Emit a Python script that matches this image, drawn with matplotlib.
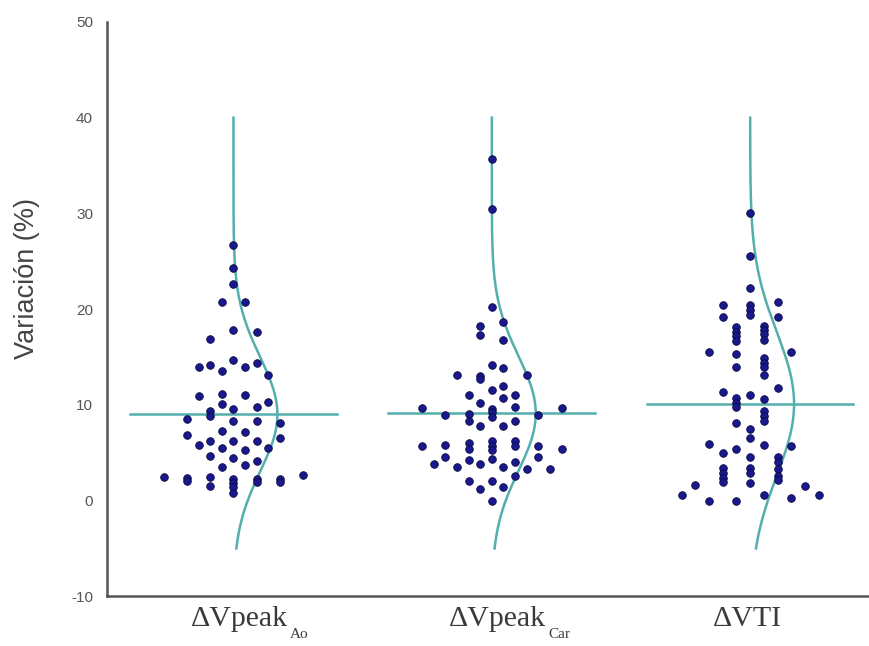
import numpy as np
import matplotlib

matplotlib.use("Agg")
import matplotlib.pyplot as plt
import matplotlib.transforms as mtransforms

plt.rcParams["axes.unicode_minus"] = False

# ── data ──
labels = ["ΔVpeak", "ΔVpeak", "ΔVTI"]
subs = ["Ao", "Car", ""]

ao_vals = [26.75, 24.3, 22.6, 20.7, 20.7, 17.8, 17.6, 16.9, 13.9, 14.2, 13.5, 14.7,
           13.9, 14.4, 13.1, 10.9, 11.1, 10.05, 11.0, 9.6, 9.8, 10.3, 9.4, 8.8, 8.5,
           8.35, 8.35, 8.1, 6.8, 7.3, 7.2, 6.5, 5.8, 6.2, 6.2, 6.2, 5.5, 5.3, 5.5,
           4.7, 4.4, 4.1, 3.5, 3.7, 2.5, 2.4, 2.0, 2.5, 1.5, 2.2, 1.8, 1.4, 0.8,
           2.2, 1.9, 2.3, 1.9, 2.7]
ao_cols = [0, 0, 0, -1, 1, 0, 2, -2, -3, -2, -1, 0,
           1, 2, 3, -3, -1, -1, 1, 0, 2, 3, -2, -2, -4,
           0, 2, 4, -4, -1, 1, 4, -3, -2, 0, 2, -1, 1, 3,
           -2, 0, 2, -1, 1, -6, -4, -4, -2, -2, 0, 0, 0, 0,
           2, 2, 4, 4, 6]

car_vals = [35.7, 30.5, 20.25, 18.7, 18.2, 17.3, 16.8, 14.2, 13.8, 13.1, 13.1, 13.0,
            12.7, 12.0, 11.6, 11.0, 11.0, 10.7, 10.2, 9.8, 9.7, 9.7, 9.6, 9.2, 8.9,
            9.0, 8.9, 8.3, 8.7, 8.3, 7.8, 7.8, 5.7, 5.8, 6.05, 5.4, 6.2, 5.7, 5.3,
            6.2, 5.7, 5.7, 5.4, 4.5, 4.5, 3.8, 3.5, 4.2, 3.8, 4.3, 3.5, 4.0, 3.3,
            3.3, 2.6, 2.05, 2.05, 1.2, 1.4, 0.0]
car_cols = [0, 0, 0, 1, -1, -1, 1, 0, 1, 3, -3, -1,
            -1, 1, 0, -2, 2, 1, -1, 2, -6, 6, 0, 0, -4,
            -2, 4, -2, 0, 2, -1, 1, -6, -4, -2, -2, 0, 0, 0,
            2, 2, 4, 6, 4, -4, -5, -3, -2, -1, 0, 1, 2, 3,
            5, 2, -2, 0, -1, 1, 0]

vti_vals = [30.0, 25.5, 22.2, 20.4, 19.2, 20.4, 19.9, 19.4, 20.7, 19.2, 18.1, 17.6,
            17.2, 16.7, 18.2, 17.8, 17.4, 16.8, 15.5, 15.5, 15.3, 14.0, 14.9, 14.4,
            13.9, 13.1, 11.8, 11.3, 11.0, 10.75, 10.2, 9.8, 10.6, 9.4, 8.8, 8.3, 8.1,
            7.5, 6.5, 5.95, 5.7, 5.8, 5.4, 5.0, 4.6, 4.5, 4.0, 3.4, 2.9, 2.4, 1.9,
            3.4, 2.9, 1.8, 3.3, 2.6, 2.1, 1.6, 1.5, 0.6, 0.6, 0.0, 0.0, 0.6, 0.25]
vti_cols = [0, 0, 0, -2, -2, 0, 0, 0, 2, 2, -1, -1,
            -1, -1, 1, 1, 1, 1, -3, 3, -1, -1, 1, 1,
            1, 1, 2, -2, 0, -1, -1, -1, 1, 1, 1, 1, -1,
            0, 0, -3, 3, 1, -1, -2, 0, 2, 2, -2, -2, -2, -2,
            0, 0, 0, 2, 2, 2, -4, 4, -5, 5, -3, -1, 1, 3]

means = [9.0, 9.1, 10.1]
sds = [6.0, 6.0, 7.5]

groups = [(ao_vals, ao_cols), (car_vals, car_cols), (vti_vals, vti_cols)]
col_step = [0.045, 0.045, 0.053]
centers = [1, 2, 3]

dot_color = "#1a188f"
line_color = "#52afad"
axis_color = "#555555"
text_color = "#3a3a3a"

fig = plt.figure(figsize=(8.69, 6.46), dpi=100)
ax = fig.add_axes([0.123, 0.077, 0.877, 0.889])

for i, (vals, cols) in enumerate(groups):
    xc = centers[i]
    xs = xc + np.array(cols) * col_step[i]
    ax.scatter(xs, vals, s=30, color=dot_color, edgecolor="#0a0a40",
               linewidth=0.6, zorder=3)

    # mean line
    ax.plot([xc - 0.40, xc + 0.40], [means[i], means[i]], color=line_color,
            lw=1.8, zorder=2)

    # normal curve
    yy = np.linspace(-5, 40, 300)
    xx = xc + 0.17 * np.exp(-0.5 * ((yy - means[i]) / sds[i]) ** 2)
    ax.plot(xx, yy, color=line_color, lw=1.8, zorder=2)

ax.set_xlim(0.51, 3.46)
ax.set_ylim(-10, 50)
ax.set_yticks(range(-10, 51, 10))
ax.set_xticks(centers)
ax.set_xticklabels(labels, fontsize=21.5, color=text_color, family="Liberation Serif")
ax.tick_params(axis="both", length=0)
ax.tick_params(axis="y", labelsize=11, labelcolor="#555555", pad=10)
ax.tick_params(axis="x", pad=7)
for lab in ax.get_yticklabels():
    lab.set_fontfamily("Liberation Sans")

shifts = [6, 6, -3]
for lab, dx in zip(ax.get_xticklabels(), shifts):
    off = mtransforms.ScaledTranslation(dx / 100, 0, fig.dpi_scale_trans)
    lab.set_transform(lab.get_transform() + off)

# subscripts hang off the right bottom of each tick label
for lab, s in zip(ax.get_xticklabels(), subs):
    if s:
        ax.annotate(s, xy=(1, 0), xycoords=lab, xytext=(1.5, -4),
                    textcoords="offset points", fontsize=11, color=text_color,
                    family="Liberation Serif", ha="left", va="baseline")

ax.set_ylabel("Variación (%)", fontsize=19.5, color="#444444",
              family=["Liberation Sans Narrow", "Liberation Sans"])
ax.yaxis.set_label_coords(-0.088, 0.554)

for side in ["top", "right"]:
    ax.spines[side].set_visible(False)
for side in ["left", "bottom"]:
    ax.spines[side].set_color(axis_color)
    ax.spines[side].set_linewidth(1.8)

fig.savefig("out.png", dpi=100)
